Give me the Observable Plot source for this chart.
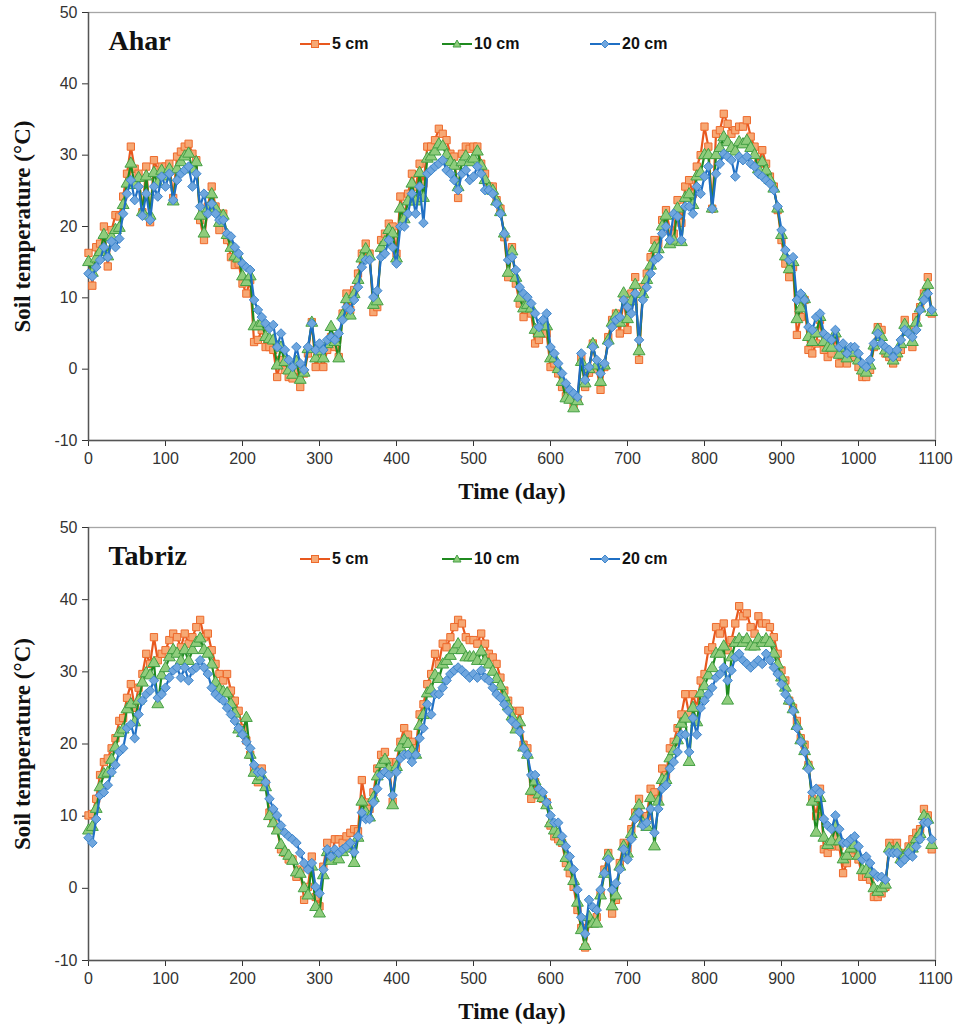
<!DOCTYPE html>
<html>
<head>
<meta charset="utf-8">
<script src="https://cdn.jsdelivr.net/npm/d3@7"></script>
<script src="https://cdn.jsdelivr.net/npm/@observablehq/plot@0.6"></script>
<style>
  html, body { margin: 0; padding: 0; background: #fff; }
  .panel { position: relative; width: 957px; }
  .legend { position: absolute; display: flex; align-items: center; font: bold 16px "Liberation Sans", Arial, sans-serif; color: #111; }
  .legend svg { display: block; margin-right: 2px; }
</style>
</head>
<body>
<div id="chart"></div>
<script>
// ---- tick labels / categories ----
const xTicks = [0, 100, 200, 300, 400, 500, 600, 700, 800, 900, 1000, 1100];
const yTicks = [-10, 0, 10, 20, 30, 40, 50];
const depthLabels = ["5 cm", "10 cm", "20 cm"];
const stations = ["Ahar", "Tabriz"];
const days = d3.range(0, 1100, 5);

// ---- Ahar (°C) ----
const ahar5 = [
 16.3,11.7,17.1,17.6,20.0,14.4,19.5,21.6,21.4,24.2,
 27.4,31.2,28.1,27.4,22.0,28.4,20.6,29.3,27.9,28.4,
 28.4,28.8,24.0,29.8,30.5,31.2,31.6,30.2,29.3,20.9,
 18.1,22.8,25.6,22.8,19.5,21.8,18.1,15.7,14.6,14.8,
 12.0,10.6,12.5,3.8,4.1,5.5,3.1,3.1,2.7,-1.1,
 1.3,-0.1,-1.1,-1.3,-0.1,-2.5,-0.6,2.2,6.6,0.3,
 1.7,0.3,2.7,4.5,3.1,1.7,7.8,10.6,8.3,11.1,
 13.4,16.2,17.6,16.2,8.0,8.7,18.1,19.0,20.4,20.0,
 16.2,24.2,21.4,24.6,27.4,25.5,28.8,26.0,31.2,31.2,
 32.1,33.7,33.0,32.1,30.2,29.8,24.0,30.2,31.2,30.9,
 31.2,31.2,28.8,27.4,25.6,25.6,23.7,22.5,18.5,12.9,
 17.1,12.0,9.2,7.3,8.3,7.8,3.6,4.1,5.0,5.0,
 0.3,0.8,-0.6,-2.5,-3.8,-4.2,-5.0,-4.2,1.5,-2.5,
 -0.5,3.6,0.0,-2.9,0.3,4.5,6.9,7.8,5.0,10.0,
 5.5,10.6,12.9,1.3,11.5,13.4,15.7,18.1,17.6,20.9,
 22.3,19.5,19.0,23.7,20.5,25.6,26.5,24.6,28.4,30.0,
 34.0,31.2,22.5,33.0,33.5,35.8,34.4,33.0,33.5,34.0,
 34.0,34.9,32.6,31.2,28.8,30.7,28.8,27.0,25.6,22.3,
 18.1,14.8,12.9,14.3,4.8,7.3,9.7,2.7,2.2,3.6,
 6.9,2.7,1.7,2.2,4.5,0.8,2.2,0.8,1.7,1.7,
 0.3,-1.1,-1.1,-0.1,3.1,5.9,5.5,2.2,1.7,0.8,
 1.7,2.7,6.9,5.5,3.1,7.3,8.7,10.6,12.9,7.8
];
const ahar10 = [
 15.0,13.5,15.5,16.4,18.8,15.8,18.5,19.5,19.8,23.0,
 26.0,28.8,25.8,26.8,22.0,27.0,21.5,27.5,26.0,27.8,
 27.0,28.0,23.5,28.0,29.0,29.8,30.2,28.0,29.0,21.5,
 19.0,22.5,24.5,22.5,20.5,21.5,18.8,17.0,15.8,15.5,
 13.0,12.2,13.0,6.0,6.0,6.5,4.5,4.2,4.0,0.5,
 3.0,1.0,-0.2,-0.8,1.0,-1.5,-0.5,2.8,6.5,1.5,
 2.5,1.5,3.5,5.9,3.8,1.5,7.5,9.8,7.5,10.5,
 12.5,15.5,16.8,15.8,9.0,9.5,17.0,17.8,19.5,19.0,
 15.5,22.5,21.0,23.5,26.0,23.5,27.5,24.0,29.5,29.8,
 30.5,31.5,31.2,30.0,29.0,28.5,25.5,29.0,29.8,29.0,
 29.5,30.5,28.5,26.5,25.3,25.0,23.5,22.0,19.0,13.5,
 16.5,12.8,10.0,8.5,9.0,8.5,5.5,5.0,6.0,6.0,
 1.5,1.5,0.0,-1.8,-4.1,-4.3,-5.5,-4.5,1.0,-2.0,
 0.0,3.5,0.5,-1.8,0.5,4.0,6.5,7.5,6.5,10.6,
 7.0,9.5,11.8,2.5,10.5,12.5,14.5,17.0,16.8,20.0,
 21.5,17.5,18.0,22.5,17.8,24.0,24.5,23.0,27.0,27.5,
 30.0,30.0,22.5,30.0,31.0,32.5,31.8,31.0,30.5,31.8,
 31.5,32.0,31.0,30.0,28.0,29.0,27.8,26.5,25.3,22.5,
 18.8,15.8,14.0,15.0,7.0,8.5,9.8,4.5,3.8,5.0,
 7.3,3.8,3.0,3.0,5.0,2.0,3.0,1.5,2.3,2.3,
 1.2,-0.2,-0.5,0.5,3.3,5.5,4.5,2.6,2.2,1.2,
 2.2,3.5,6.2,5.2,3.8,6.5,8.5,10.2,11.8,8.0
];
const ahar20 = [
 13.4,13.0,14.3,15.3,17.1,15.7,17.9,17.1,18.3,21.8,
 24.6,26.5,23.7,25.6,21.5,24.6,20.9,25.6,24.2,27.0,
 25.6,27.4,23.7,26.5,27.4,27.9,28.4,25.6,27.4,22.8,
 24.6,21.8,23.2,21.8,20.9,20.9,19.0,18.6,17.1,16.2,
 14.8,14.3,13.9,9.7,8.3,7.3,6.4,5.7,6.2,3.1,
 5.0,2.7,1.3,0.3,3.1,0.8,-0.1,3.1,6.4,2.7,
 3.6,2.7,4.1,4.5,4.1,5.0,6.9,8.7,8.3,9.7,
 11.5,14.3,15.3,15.3,10.1,11.0,15.7,16.2,18.1,17.1,
 14.8,20.0,20.0,21.8,24.6,21.8,25.6,20.5,27.4,27.9,
 28.4,28.8,29.3,27.9,27.4,26.5,25.1,27.4,27.9,26.5,
 27.0,28.4,27.4,25.1,25.1,24.6,23.2,21.8,19.0,15.3,
 15.7,13.9,11.5,10.6,10.1,9.2,7.8,5.9,6.9,7.8,
 3.1,2.2,0.8,-0.6,-2.0,-2.9,-3.4,-3.9,2.2,-1.5,
 0.3,3.1,1.3,-0.6,0.8,3.6,5.9,6.9,7.3,9.7,
 8.7,7.8,10.6,4.1,9.7,11.5,13.4,15.3,15.7,19.0,
 20.0,18.1,21.8,21.4,18.1,22.8,22.8,21.8,25.6,24.6,
 27.0,28.4,22.5,27.4,28.8,30.2,29.8,29.3,27.0,29.8,
 29.3,29.8,28.8,28.4,27.4,27.0,26.5,26.0,25.1,22.8,
 19.5,16.7,15.3,15.7,9.7,10.6,9.7,5.9,5.5,7.3,
 7.8,5.0,4.5,4.1,5.5,3.1,3.6,2.2,3.1,3.1,
 2.2,0.8,0.3,1.3,3.6,5.0,3.6,3.1,2.7,1.7,
 2.7,4.1,5.5,5.0,4.5,5.5,8.3,9.7,10.6,8.3
];

// ---- Tabriz (°C) ----
const tabriz5 = [
 10.1,10.3,12.4,15.7,17.5,18.0,19.4,20.8,23.2,23.6,
 26.4,28.3,25.0,27.8,29.7,32.5,31.1,34.8,31.6,32.5,
 33.0,34.4,35.3,34.8,33.4,35.3,33.9,34.8,36.2,37.2,
 34.8,35.3,33.0,31.1,29.7,28.8,29.7,27.4,26.0,24.6,
 22.2,20.5,18.5,16.5,14.7,16.6,14.5,10.5,9.1,8.2,
 5.4,4.9,4.0,4.0,1.6,2.6,-1.6,0.2,4.4,-1.2,
 -2.5,3.0,6.3,4.0,6.8,6.8,6.3,7.2,7.7,8.2,
 7.9,15.0,11.9,11.0,13.3,16.6,18.5,18.9,17.5,12.0,
 17.5,20.3,22.2,21.3,20.3,19.4,24.1,25.5,28.3,29.7,
 32.5,31.1,33.9,33.4,34.8,36.2,37.2,36.7,34.8,34.4,
 34.4,33.9,35.3,33.9,32.5,32.0,31.1,29.2,27.4,26.0,
 24.6,22.2,24.6,19.9,19.4,12.4,14.7,12.9,12.4,11.9,
 8.7,7.2,6.8,6.3,3.5,2.1,0.2,-3.0,-5.5,-8.2,
 -4.9,-4.5,-4.0,-0.7,2.6,4.9,-3.5,-1.6,3.5,6.3,
 5.5,8.2,10.5,12.4,9.6,10.0,13.8,13.3,12.4,16.6,
 15.7,19.4,20.3,22.2,24.1,26.9,24.1,26.9,25.0,28.8,
 29.7,33.0,33.4,36.2,35.3,36.7,33.0,34.4,36.7,39.1,
 37.7,38.1,36.2,35.3,37.7,36.7,36.7,36.2,34.8,32.5,
 30.2,28.8,26.0,25.0,23.2,20.8,19.9,17.1,12.4,10.0,
 13.8,5.4,4.9,5.8,7.2,5.8,2.1,3.5,4.9,5.4,
 4.0,1.6,1.6,1.2,-1.2,-1.2,-0.7,0.2,6.3,5.8,
 6.3,4.5,4.9,5.8,6.8,7.7,8.2,11.0,10.1,5.4
];
const tabriz10 = [
 8.0,8.5,11.0,14.0,15.8,16.0,17.8,19.5,21.5,22.0,
 24.8,25.5,23.0,26.0,28.5,29.8,29.5,31.2,25.5,29.5,
 30.5,32.0,33.0,32.5,31.5,33.0,31.5,33.0,34.0,34.6,
 33.0,32.5,31.0,28.5,27.5,27.2,27.0,25.5,24.2,22.0,
 21.5,23.6,18.5,16.0,15.0,15.5,14.0,10.0,9.0,8.0,
 6.0,5.0,4.5,3.8,2.2,2.0,0.0,-1.0,3.0,-2.6,
 -3.5,1.8,5.0,3.8,4.5,4.0,5.0,5.5,6.0,3.5,
 7.0,12.0,10.5,9.8,12.5,15.5,17.2,17.8,16.5,11.5,
 16.8,19.5,20.5,20.0,19.0,18.5,22.5,24.0,27.0,27.5,
 29.5,29.0,31.0,31.5,32.2,33.0,33.8,33.0,32.0,32.0,
 32.0,31.5,32.8,31.5,31.0,30.0,29.0,28.0,26.5,25.2,
 23.8,22.0,23.0,19.5,18.5,13.5,14.8,13.0,12.5,11.5,
 9.0,8.0,7.5,6.5,4.2,3.0,1.0,-2.0,-5.8,-8.0,
 -4.0,-4.9,-4.9,-1.0,2.0,4.5,-2.5,-1.0,3.0,5.8,
 4.8,7.5,10.0,11.5,9.0,8.5,12.5,5.8,12.0,15.0,
 15.0,18.0,19.0,20.5,22.8,23.5,17.5,25.0,23.0,27.0,
 28.0,29.5,30.5,32.5,32.5,33.5,26.0,32.0,34.0,34.5,
 34.0,34.5,33.5,33.5,34.5,34.0,34.5,34.0,32.5,31.0,
 29.2,27.8,26.0,24.8,22.5,20.5,19.0,17.0,12.0,7.7,
 12.5,7.0,6.0,6.5,8.5,6.5,4.0,4.5,5.5,6.0,
 4.5,2.5,2.5,2.0,0.0,-0.5,0.0,0.5,5.5,5.0,
 5.5,4.0,4.5,5.3,5.5,6.8,7.5,10.0,9.5,6.0
];
const tabriz20 = [
 7.0,6.3,9.6,12.9,13.3,14.3,16.1,17.1,18.9,19.4,
 22.2,22.7,20.8,24.1,26.0,26.9,27.4,28.8,26.4,26.9,
 27.8,29.2,30.2,30.6,29.2,30.6,28.8,30.2,30.6,31.6,
 30.6,29.7,27.8,26.9,26.4,26.0,25.0,24.1,23.2,22.2,
 21.3,20.3,19.4,17.1,16.1,16.1,14.7,12.4,11.0,10.1,
 8.7,7.7,7.2,6.8,6.3,4.9,3.5,2.6,3.5,0.2,
 -0.7,2.6,5.4,4.4,5.4,4.9,5.4,5.8,6.3,5.0,
 7.2,10.5,9.6,9.6,11.9,13.8,15.7,16.1,15.7,12.9,
 16.1,18.0,18.5,18.5,17.5,18.5,20.8,22.2,25.5,24.1,
 26.9,26.9,27.8,28.8,29.7,30.2,30.6,30.2,29.7,29.2,
 29.7,29.2,30.2,29.2,28.8,27.8,26.9,26.4,25.5,24.6,
 23.2,22.7,21.7,19.4,18.5,15.7,15.7,13.8,13.3,11.9,
 10.1,9.1,9.1,7.2,5.8,4.4,2.6,-0.2,-4.0,-6.3,
 -1.6,-2.6,-3.0,-0.2,2.1,4.0,-0.2,0.7,2.6,5.4,
 4.0,6.8,9.6,10.5,8.7,9.1,11.0,7.7,11.0,13.8,
 14.3,16.6,17.5,18.9,21.3,21.3,18.9,23.6,21.3,25.0,
 26.0,26.9,27.8,29.2,29.7,30.6,28.8,30.2,32.0,32.5,
 31.6,31.1,30.6,31.1,31.6,31.1,32.5,31.6,30.6,29.7,
 28.3,26.9,26.0,24.6,22.2,20.3,18.9,16.5,13.3,13.8,
 13.3,9.6,8.7,8.2,10.1,8.2,6.3,6.3,6.8,7.2,
 5.8,4.0,4.4,3.5,2.1,1.6,1.6,1.2,4.9,4.9,
 4.9,3.5,4.0,4.9,4.4,5.8,6.8,9.1,9.1,6.8
];

// ---- styling per depth ----
const styles = [
  {line: "#e8581e", fill: "#f6a874", stroke: "#ee6a2c", symbol: "square", r: 4.1},
  {line: "#1f8a1f", fill: "#8fcc7c", stroke: "#44a044", symbol: "triangle", r: 4.4},
  {line: "#1f6fc4", fill: "#6fa6de", stroke: "#3f86cc", symbol: "diamond2", r: 4.3}
];

const rows = (vals, depth) => vals.map((v, i) => ({day: days[i], temp: v, depth}));

function seriesMarks(vals, k) {
  const data = rows(vals, depthLabels[k]);
  const s = styles[k];
  return [
    Plot.line(data, {x: "day", y: "temp", stroke: s.line, strokeWidth: 2.2}),
    Plot.dot(data, {x: "day", y: "temp", symbol: () => s.symbol, r: s.r, fill: s.fill, stroke: s.stroke, strokeWidth: 1})
  ];
}

const serif = "'Liberation Serif', 'Times New Roman', serif";

function panel(title, series, height, marginTop, marginBottom) {
  const wrap = document.createElement("div");
  wrap.className = "panel";
  const plot = Plot.plot({
    width: 957, height, marginLeft: 88, marginRight: 22, marginTop, marginBottom,
    style: {fontFamily: "'Liberation Sans', Arial, sans-serif", fontSize: "16px", color: "#333", background: "#fff"},
    x: {domain: [0, 1100]},
    y: {domain: [-10, 50]},
    symbol: {type: "identity"},
    marks: [
      Plot.frame({stroke: "#a6a6a6", strokeWidth: 1.3}),
      Plot.axisX({ticks: xTicks, tickSize: 6, tickPadding: 6, label: null, fontSize: 16, tickFormat: d => String(d)}),
      Plot.axisY({ticks: yTicks, tickSize: 6, tickPadding: 5, label: null, fontSize: 16, tickFormat: d => String(d)}),
      Plot.ruleX([0], {stroke: "#555", strokeWidth: 1.4}),
      Plot.ruleY([-10], {stroke: "#555", strokeWidth: 1.4}),
      ...series.flatMap((vals, k) => seriesMarks(vals, k)),
      Plot.text([title], {text: d => d, frameAnchor: "top-left", dx: 20, dy: 29, lineAnchor: "middle", textAnchor: "start",
        fontFamily: serif, fontWeight: "bold", fontSize: 28, fill: "#111"}),
      Plot.text(["Time (day)"], {text: d => d, frameAnchor: "bottom", dy: 51, lineAnchor: "middle", textAnchor: "middle",
        fontFamily: serif, fontWeight: "bold", fontSize: 23, fill: "#111"}),
      Plot.text(["Soil temperature (°C)"], {text: d => d, frameAnchor: "left", dx: -66, rotate: -90, lineAnchor: "middle", textAnchor: "middle",
        fontFamily: serif, fontWeight: "bold", fontSize: 23, fill: "#111"})
    ]
  });
  wrap.appendChild(plot);
  // legend (HTML overlay)
  const lefts = [300, 442, 590];
  depthLabels.forEach((lab, k) => {
    const s = styles[k];
    const item = document.createElement("div");
    item.className = "legend";
    item.style.left = lefts[k] + "px";
    item.style.top = (marginTop + 32 - 9) + "px";
    let marker;
    if (k === 0) marker = `<rect x="11.5" y="5.5" width="7" height="7" fill="${s.fill}" stroke="${s.stroke}"/>`;
    else if (k === 1) marker = `<path d="M15,5 L19,12 L11,12 Z" fill="${s.fill}" stroke="${s.stroke}"/>`;
    else marker = `<path d="M15,5 L19,9 L15,13 L11,9 Z" fill="${s.fill}" stroke="${s.stroke}"/>`;
    item.innerHTML = `<svg width="30" height="18" viewBox="0 0 30 18"><line x1="0" x2="30" y1="9" y2="9" stroke="${s.line}" stroke-width="2"/>${marker}</svg><span>${lab}</span>`;
    wrap.appendChild(item);
  });
  return wrap;
}

const chart = document.getElementById("chart");
chart.appendChild(panel(stations[0], [ahar5, ahar10, ahar20], 505, 12, 65));
chart.appendChild(panel(stations[1], [tabriz5, tabriz10, tabriz20], 519, 22, 64));
</script>
</body>
</html>
